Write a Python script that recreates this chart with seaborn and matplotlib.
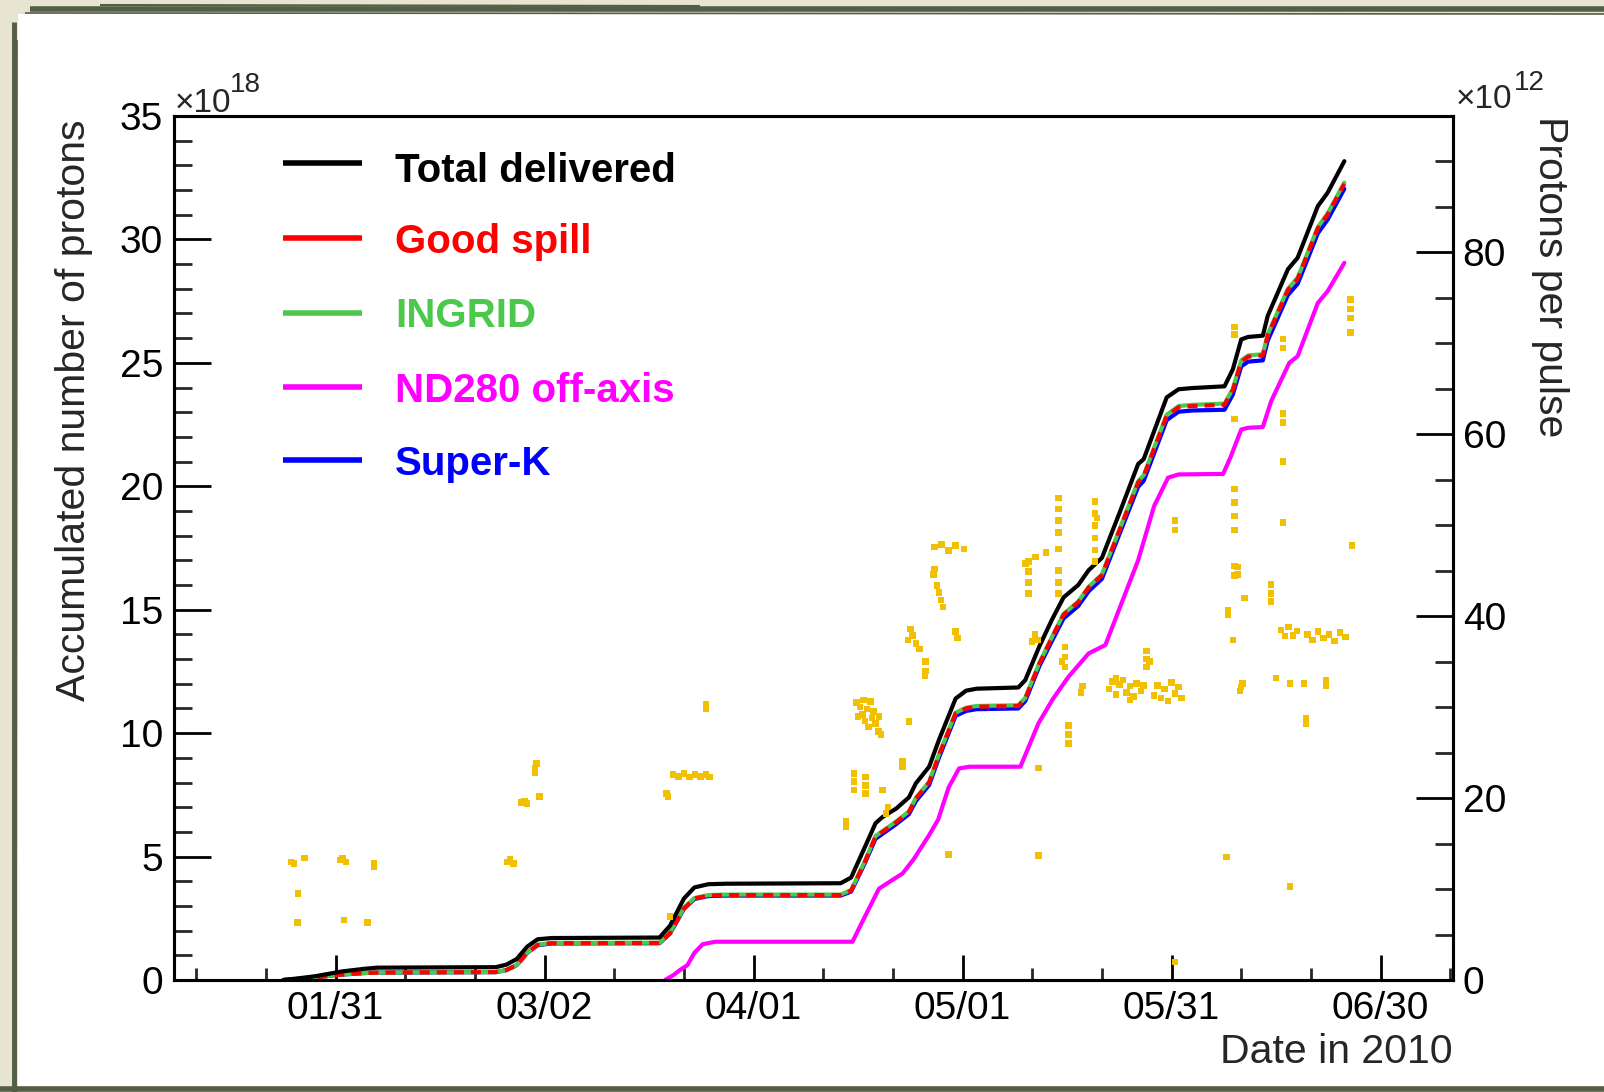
import numpy as np
import pandas as pd
import matplotlib
matplotlib.use("Agg")
import matplotlib.pyplot as plt
import matplotlib.dates as mdates
from matplotlib.ticker import MultipleLocator, FixedLocator
from matplotlib.lines import Line2D
from matplotlib.patches import Rectangle
import seaborn as sns

# ---------------- data (day of year 2010, accumulated protons x1e18) ----------------
acc_day = [23.5, 26, 28, 31, 32, 35, 37, 54, 55.5, 57, 58.5, 60, 62, 77.5, 79, 81, 82.5, 84.5, 87,
           103.5, 105, 107, 108.5, 109.5, 111.5, 113.3, 114.3, 116.2, 117.6, 120, 121.5, 123, 129,
           130, 132, 133.8, 135.5, 137.6, 139.1, 141, 143.5, 146.2, 147, 150.3, 152, 154, 158.6,
           159.8, 161, 162, 164.1, 164.8, 167.7, 169.1, 172, 173.4, 175.8]
total_pot = [0.0, 0.08, 0.15, 0.3, 0.35, 0.45, 0.5, 0.52, 0.62, 0.85, 1.35, 1.65, 1.70, 1.72, 2.2,
             3.3, 3.75, 3.88, 3.9, 3.92, 4.15, 5.4, 6.35, 6.6, 6.95, 7.4, 7.97, 8.64, 9.72, 11.4,
             11.72, 11.8, 11.85, 12.15, 13.5, 14.58, 15.5, 16.0, 16.6, 17.1, 18.9, 20.9, 21.1, 23.6,
             23.93, 23.98, 24.05, 24.74, 25.95, 26.05, 26.1, 26.9, 28.79, 29.26, 31.35, 31.89, 33.17]
good_pot = [0.0, 0.05, 0.1, 0.2, 0.22, 0.28, 0.3, 0.32, 0.4, 0.6, 1.1, 1.42, 1.49, 1.5, 1.9, 2.9,
            3.3, 3.42, 3.44, 3.44, 3.62, 4.8, 5.8, 6.0, 6.4, 6.8, 7.35, 8.0, 9.1, 10.8, 11.0, 11.07,
            11.1, 11.4, 12.8, 13.85, 14.8, 15.3, 15.9, 16.4, 18.2, 20.15, 20.4, 22.85, 23.2, 23.25,
            23.3, 23.9, 25.05, 25.25, 25.3, 26.1, 27.95, 28.4, 30.45, 31.0, 32.25]
ingrid_pot = [0.0, 0.05, 0.1, 0.2, 0.22, 0.28, 0.3, 0.32, 0.4, 0.6, 1.1, 1.43, 1.5, 1.51, 1.92,
              2.92, 3.32, 3.44, 3.46, 3.46, 3.64, 4.83, 5.83, 6.03, 6.43, 6.83, 7.38, 8.03, 9.13,
              10.83, 11.03, 11.1, 11.13, 11.43, 12.83, 13.88, 14.83, 15.33, 15.93, 16.43, 18.23,
              20.2, 20.45, 22.9, 23.25, 23.3, 23.35, 23.95, 25.1, 25.3, 25.35, 26.15, 28.0, 28.45,
              30.5, 31.05, 32.3]
superk_pot = [0.0, 0.05, 0.1, 0.2, 0.22, 0.28, 0.3, 0.32, 0.4, 0.6, 1.1, 1.41, 1.48, 1.49, 1.88,
              2.88, 3.28, 3.4, 3.42, 3.42, 3.58, 4.75, 5.72, 5.92, 6.32, 6.72, 7.25, 7.9, 9.0, 10.7,
              10.9, 10.97, 11.0, 11.3, 12.7, 13.72, 14.65, 15.15, 15.75, 16.25, 18.05, 19.98, 20.22,
              22.68, 23.02, 23.07, 23.1, 23.72, 24.86, 25.05, 25.1, 25.9, 27.75, 28.2, 30.25, 30.8,
              32.05]
nd280_day = [78.3, 79.5, 80.4, 81.5, 82.5, 83.7, 85.5, 105.2, 106.5, 109, 112.4, 114, 116.2, 117.5,
             119, 120.5, 122, 129.3, 131.9, 134, 136.2, 139.1, 141.5, 146.2, 148.5, 150.5, 152,
             158.4, 159.5, 161, 162, 164.1, 165.3, 167.9, 169.1, 172, 173.4, 175.8]
nd280_pot = [0.0, 0.2, 0.4, 0.6, 1.1, 1.45, 1.55, 1.55, 2.3, 3.7, 4.32, 4.9, 5.87, 6.5, 7.8, 8.57,
             8.64, 8.64, 10.4, 11.4, 12.28, 13.23, 13.57, 17.0, 19.2, 20.35, 20.48, 20.5, 21.2,
             22.3, 22.37, 22.4, 23.45, 25.0, 25.27, 27.43, 27.9, 29.05]

# protons per pulse (x1e12)
ppp_day = [24.6, 25.0, 26.5, 31.6, 32.0, 32.5, 36.5, 36.5, 25.6, 25.5, 32.2, 35.6,
           55.6, 56.0, 56.5, 57.7, 58.1, 58.5, 59.6, 59.6, 59.8, 60.3, 79.0, 78.5, 78.7,
           79.4, 80.2, 81.0, 81.8, 82.6, 83.4, 84.2, 84.7, 84.2, 84.2,
           105.8, 106.3, 106.6, 107.0, 107.3, 107.8, 108.2, 108.5, 108.9, 109.3, 106.0, 107.5, 108.0, 109.0, 106.8,
           104.3, 104.3, 105.4, 105.4, 105.4, 107.1, 107.1, 107.1, 109.5, 110.0, 110.3, 112.4, 112.4, 113.3,
           115.7, 115.7, 115.6, 113.2, 113.8, 114.3, 114.8, 113.5, 120.0, 120.3,
           116.8, 117.0, 117.3, 117.6, 117.9, 118.2, 119.0,
           117.0, 118.0, 119.0, 120.0, 121.2,
           131.9, 131.9, 136.2, 136.2, 136.2, 135.7, 135.7, 135.7, 135.3, 131.0, 131.4, 131.8, 138.0, 138.2,
           142.0, 142.5, 143.0, 143.5, 144.0, 144.5, 145.0, 145.5, 146.0, 146.6, 147.0, 143.0, 145.0,
           148.5, 149.0, 149.5, 150.0, 150.5, 151.0, 151.5, 152.0, 152.4,
           147.4, 147.4, 147.4, 147.8,
           130.5, 130.5, 130.5, 130.5, 134.8, 134.8, 134.8,
           130.0, 131.5, 133.0, 134.8,
           134.8, 134.8, 134.8, 134.8,
           140.0, 140.0, 140.0, 140.0, 140.0, 140.0, 140.3,
           151.5, 151.5, 151.5,
           160.0, 160.0, 160.0, 160.0, 160.0, 160.0, 160.0, 160.0, 160.0,
           160.5, 160.5, 161.5, 159.1, 159.1, 159.8, 161.0, 161.2, 160.8,
           165.3, 165.3, 165.3,
           166.7, 167.3, 167.8, 168.4, 169.0,
           170.5, 171.2, 172.0, 172.8, 173.6, 174.4, 175.2, 176.0,
           166.0, 168.0, 170.0, 173.2, 173.2, 170.3, 170.3, 158.9, 168.0,
           167.0, 167.0, 167.0, 167.0, 167.0, 167.0,
           176.7, 176.7, 176.7, 176.7, 176.9]
ppp_val = [13.0, 12.8, 13.4, 13.2, 13.4, 13.0, 12.8, 12.4, 9.5, 6.3, 6.6, 6.3,
           13.0, 13.3, 12.8, 19.5, 19.7, 19.4, 23.3, 22.8, 23.8, 20.2, 7.0, 20.5, 20.2,
           22.6, 22.4, 22.7, 22.3, 22.6, 22.4, 22.6, 22.3, 29.8, 30.3,
           30.5, 30.0, 29.2, 28.5, 29.8, 30.6, 29.5, 28.2, 27.3, 27.0, 29.0, 27.8, 28.8, 29.0, 30.8,
           17.5, 16.8, 22.7, 21.8, 20.9, 22.3, 21.4, 20.5, 20.9, 18.3, 19.0, 23.5, 24.0, 28.4,
           34.0, 35.0, 33.4, 37.4, 37.9, 37.0, 36.4, 38.6, 38.3, 37.6,
           44.6, 45.2, 43.4, 42.6, 41.8, 41.0, 13.8,
           47.6, 47.9, 47.2, 47.8, 47.4,
           23.3, 13.7, 26.0, 27.0, 28.0, 34.4, 35.5, 36.6, 35.0, 37.2, 38.0, 37.4, 31.6, 32.3,
           32.0, 32.8, 31.4, 32.5, 33.0, 31.6, 32.3, 31.2, 32.6, 31.8, 32.4, 33.2, 30.8,
           31.3, 32.4, 31.0, 32.0, 30.7, 32.7, 31.5, 32.2, 31.0,
           34.4, 35.3, 36.2, 35.0,
           42.5, 43.7, 44.9, 46.0, 42.5, 43.7, 45.0,
           45.8, 46.5, 47.0, 47.4,
           49.2, 50.5, 51.8, 53.0,
           46.0, 47.3, 48.6, 50.0, 51.3, 52.6, 50.8,
           49.5, 50.5, 2.0,
           49.5, 51.0, 52.5, 54.0, 71.0, 71.8, 61.7, 45.5, 44.5,
           44.6, 45.4, 42.0, 40.7, 40.2, 37.4, 32.2, 32.6, 31.8,
           41.6, 42.5, 43.5,
           38.5, 37.8, 38.8, 37.9, 38.4,
           38.0, 37.4, 38.3, 37.6, 38.0, 37.3, 38.2, 37.7,
           33.2, 32.6, 32.6, 33.0, 32.4, 28.2, 28.8, 13.5, 10.3,
           69.5, 70.5, 61.3, 62.3, 57.0, 50.3,
           72.8, 73.8, 74.8, 71.2, 47.8]

legend_labels = ["Total delivered", "Good spill", "INGRID", "ND280 off-axis", "Super-K"]
legend_colors = ["#000000", "#ff0000", "#4cc84c", "#ff00ff", "#0000ff"]

major_tick_days = [31, 61, 91, 121, 151, 181]
minor_tick_days = [11, 21, 41, 51, 71, 81, 101, 111, 131, 141, 161, 171, 191]


def to_date(days):
    return pd.Timestamp("2010-01-01") + pd.to_timedelta(np.asarray(days, float) - 1.0, unit="D")


# ---------------- figure ----------------
W, H = 1604, 1092
sns.set_theme(style="white")
plt.rcParams["font.family"] = ["Liberation Sans", "DejaVu Sans"]
plt.rcParams["axes.linewidth"] = 2.2

fig = plt.figure(figsize=(W / 100, H / 100), dpi=100)
fig.patch.set_facecolor("#e8e4d2")

# white panel and sketchy frame
fig.add_artist(Rectangle((18 / W, 1 - 1086 / H), (W - 18) / W, (1086 - 14) / H,
                         transform=fig.transFigure, facecolor="white", edgecolor="none", zorder=-2))
for (x0, y0, x1, y1, lw) in [(30, 9, W, 9, 4.0), (100, 5, 700, 6, 1.5), (25, 13, W, 14, 1.2),
                             (14, 22, 14, 1092, 3.5), (17, 40, 16, 1092, 1.2),
                             (0, 1089, W, 1089, 4.0)]:
    fig.add_artist(Line2D([x0 / W, x1 / W], [1 - y0 / H, 1 - y1 / H], transform=fig.transFigure,
                          color="#525e47", lw=lw, solid_capstyle="butt", zorder=-1))

ax = fig.add_axes([174 / W, 1 - 980 / H, (1453 - 174) / W, (980 - 116) / H])
ax.set_facecolor("white")

lw = 3.0
sns.lineplot(x=to_date(acc_day), y=superk_pot, ax=ax, color="#0000ff", lw=lw, estimator=None, sort=False)
sns.lineplot(x=to_date(acc_day), y=ingrid_pot, ax=ax, color="#4cc84c", lw=lw, estimator=None, sort=False)
sns.lineplot(x=to_date(acc_day), y=good_pot, ax=ax, color="#ff0000", lw=lw, estimator=None, sort=False,
             linestyle=(0, (2.4, 1.7)))
sns.lineplot(x=to_date(nd280_day), y=nd280_pot, ax=ax, color="#ff00ff", lw=lw, estimator=None, sort=False)
sns.lineplot(x=to_date(acc_day), y=total_pot, ax=ax, color="#000000", lw=lw, estimator=None, sort=False)

ax2 = ax.twinx()
sns.scatterplot(x=to_date(ppp_day), y=ppp_val, ax=ax2, marker="s", s=22, color="#f2c000",
                edgecolor="none", linewidth=0)

# axes limits & ticks
xmin = mdates.date2num(to_date([7.8])[0])
xmax = mdates.date2num(to_date([191.4])[0])
for a in (ax, ax2):
    a.set_xlim(xmin, xmax)
    a.set_xlabel("")
    a.set_ylabel("")
    for sp in a.spines.values():
        sp.set_linewidth(2.2)
        sp.set_color("black")
ax.set_ylim(0, 35)
ax2.set_ylim(0, 95)
ax.xaxis.set_major_locator(FixedLocator(mdates.date2num(to_date(major_tick_days))))
ax.xaxis.set_minor_locator(FixedLocator(mdates.date2num(to_date(minor_tick_days))))
ax.xaxis.set_major_formatter(mdates.DateFormatter("%m/%d"))
ax.yaxis.set_major_locator(MultipleLocator(5))
ax.yaxis.set_minor_locator(MultipleLocator(1))
ax2.yaxis.set_major_locator(MultipleLocator(20))
ax2.yaxis.set_minor_locator(MultipleLocator(5))

ax.tick_params(axis="y", which="major", direction="in", length=26.5, width=2, labelsize=28, pad=8,
               left=True, right=False, colors="black")
ax.tick_params(axis="y", which="minor", direction="in", length=13, width=2, left=True, right=False)
ax.tick_params(axis="x", which="major", direction="in", length=18, width=2, labelsize=28, pad=8,
               bottom=True, top=False, colors="black")
ax.tick_params(axis="x", which="minor", direction="in", length=9, width=2, bottom=True, top=False)
ax2.tick_params(axis="y", which="major", direction="in", length=26.5, width=2, labelsize=28, pad=7,
                right=True, left=False, colors="black")
ax2.tick_params(axis="y", which="minor", direction="in", length=13, width=2, right=True, left=False)
ax2.tick_params(axis="x", which="both", bottom=False, top=False, labelbottom=False)
ax.grid(False)
ax2.grid(False)

# axis titles and multipliers
fig.text(74 / W, 1 - 119 / H, "Accumulated number of protons", rotation=90, ha="center", va="top",
         fontsize=29.5)
fig.text(1550 / W, 1 - 116 / H, "Protons per pulse", rotation=270, ha="center", va="top", fontsize=29.5)
fig.text(1453 / W, 1 - 1052 / H, "Date in 2010", ha="right", va="center", fontsize=29.5)
fig.text(175 / W, 1 - 112 / H, "×10", ha="left", va="baseline", fontsize=24)
fig.text(230 / W, 1 - 92 / H, "18", ha="left", va="baseline", fontsize=20)
fig.text(1456 / W, 1 - 108 / H, "×10", ha="left", va="baseline", fontsize=24)
fig.text(1514 / W, 1 - 90 / H, "12", ha="left", va="baseline", fontsize=20)

# legend (manual, ROOT-style)
handle_y = [163.3, 238.3, 312.7, 386.7, 460.0]
text_base = [181.7, 253.3, 326.7, 401.7, 475.0]
for lab, col, hy, ty in zip(legend_labels, legend_colors, handle_y, text_base):
    fig.add_artist(Line2D([283 / W, 362 / W], [1 - hy / H, 1 - hy / H], transform=fig.transFigure,
                          color=col, lw=4.0, solid_capstyle="butt"))
    fig.text(395 / W, 1 - ty / H, lab, color=col, fontsize=29, fontweight="bold", ha="left",
             va="baseline")

fig.savefig("out.png", dpi=100, facecolor=fig.get_facecolor())
